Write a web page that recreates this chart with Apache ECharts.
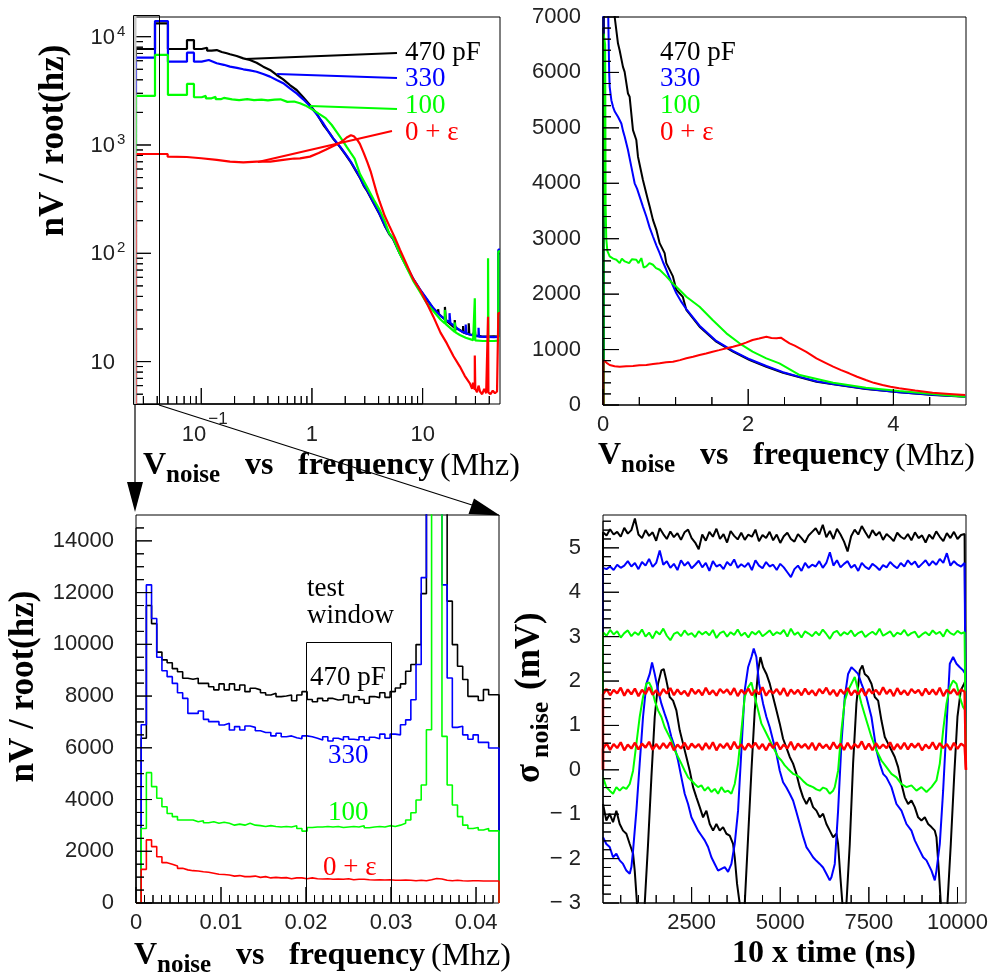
<!DOCTYPE html>
<html>
<head>
<meta charset="utf-8">
<script src="https://cdn.jsdelivr.net/npm/echarts@6/dist/echarts.min.js"></script>
<style>
html,body{margin:0;padding:0;background:#fff;}
#c{width:994px;height:976px;}
</style>
</head>
<body>
<div id="c"></div>
<script>
// ---------- Top-left: noise spectra, log-log (frequency MHz, nV/sqrt(Hz)) ----------
const logBlack = [[0.0257,1],[0.0257,7700],[0.0382,7700],[0.0382,13300],[0.0500,13300],[0.0500,7700],[0.0743,7700],[0.0743,9300],[0.0859,9300],[0.0859,7700],[0.101,7700],[0.101,7900],[0.113,7900],[0.113,7430],[0.124,7430],[0.124,7530],[0.138,7530],[0.138,7220],[0.153,7220],[0.153,7030],[0.170,7030],[0.170,6880],[0.182,6880],[0.209,6640],[0.240,6310],[0.275,6090],[0.316,5750],[0.363,5290],[0.418,4930],[0.480,4430],[0.550,4040],[0.632,3580],[0.727,3220],[0.834,2760],[0.958,2340],[1.10,1960],[1.27,1530],[1.45,1280],[1.56,1140],[1.79,960],[2.02,810],[2.25,690],[2.48,583],[2.71,500],[2.94,420],[3.17,373],[3.62,289],[4.08,229],[4.54,180],[5.00,150],[5.42,135],[6.20,100],[7.17,75],[8.20,58],[9.47,46],[11.0,37],[12.5,31],[13.8,28],[13.8,30.5],[14.0,27.5],[15.9,24.5],[15.9,32],[16.2,24],[19.5,20.5],[19.5,24.2],[19.8,20.3],[21.7,19.6],[23.2,18.6],[23.2,21.3],[23.5,18.5],[26.1,17.9],[26.1,22.6],[26.4,17.8],[28.6,17.6],[29.6,17.4],[29.6,20],[29.9,17.4],[34.0,17.1],[37.8,17.0],[39.0,17.0],[39.3,17.0],[44.0,17.1],[48.2,17.0],[48.3,100],[50,100]];
const logBlue = [[0.0257,1],[0.0257,6400],[0.0382,6400],[0.0382,13960],[0.0500,13960],[0.0500,5880],[0.0743,5880],[0.0743,7120],[0.0859,7120],[0.0859,5880],[0.101,5880],[0.101,6090],[0.117,6090],[0.117,5900],[0.138,5680],[0.160,5500],[0.182,5290],[0.210,5150],[0.240,5000],[0.275,4880],[0.316,4750],[0.363,4520],[0.418,4280],[0.480,3980],[0.550,3720],[0.632,3340],[0.727,3000],[0.834,2640],[0.958,2290],[1.10,1930],[1.27,1580],[1.45,1270],[1.56,1150],[1.79,970],[2.02,820],[2.25,700],[2.48,590],[2.71,505],[2.94,425],[3.17,378],[3.62,292],[4.08,232],[4.54,182],[5.00,152],[5.42,137],[6.20,101],[7.17,76],[8.20,58.5],[9.47,46.5],[11.0,37.5],[12.5,31],[14.5,26.5],[16.5,24],[17.5,23],[17.5,28],[17.8,22.8],[21.7,19.4],[24.5,18.3],[24.5,22],[24.8,18.2],[28.6,17.4],[32.0,17.1],[32.0,20.5],[32.3,17.0],[37.8,16.9],[44.0,16.8],[48.2,16.9],[48.3,108],[50,108]];
const logGreen = [[0.0257,1],[0.0257,2840],[0.0382,2840],[0.0382,6780],[0.0500,6780],[0.0500,2900],[0.0743,2900],[0.0743,3660],[0.0859,3660],[0.0859,2760],[0.101,2760],[0.101,2840],[0.110,2840],[0.110,2700],[0.124,2700],[0.124,2780],[0.135,2780],[0.135,2650],[0.150,2650],[0.150,2720],[0.160,2720],[0.160,2630],[0.190,2640],[0.220,2600],[0.260,2650],[0.300,2600],[0.350,2620],[0.400,2580],[0.460,2620],[0.520,2640],[0.600,2500],[0.690,2520],[0.780,2430],[0.870,2320],[1.01,2130],[1.15,1950],[1.33,1770],[1.51,1530],[1.70,1290],[1.88,1110],[2.06,960],[2.25,840],[2.43,750],[2.71,541],[3.17,402],[3.62,312],[4.08,253],[4.54,198],[5.00,152],[5.42,138],[6.20,100],[7.17,74],[8.20,56],[9.47,44],[11.0,34],[12.5,29.3],[14.5,24.5],[15.9,22.5],[15.9,30],[16.2,22.2],[19.5,18.8],[19.5,23],[19.8,18.6],[21.7,17.6],[24.5,16.6],[28.6,15.8],[29.6,15.7],[29.6,38.4],[29.9,15.7],[35.0,15.5],[39.0,15.5],[39.0,90],[39.3,15.5],[44.0,15.5],[48.2,15.6],[48.3,104],[50,104]];
const logRed = [[0.0257,1],[0.0257,826],[0.0497,826],[0.0497,780],[0.0740,775],[0.100,754],[0.138,728],[0.182,702],[0.240,692],[0.316,702],[0.420,702],[0.550,728],[0.690,750],[0.780,752],[0.960,781],[1.15,842],[1.33,902],[1.51,962],[1.70,1023],[1.88,1082],[2.06,1173],[2.25,1232],[2.39,1203],[2.57,1113],[2.71,1023],[2.94,842],[3.17,691],[3.39,572],[3.62,451],[3.85,361],[4.08,301],[4.54,222],[4.99,180],[5.60,140],[6.24,108],[7.20,78],[8.20,58],[9.47,45.8],[11.0,34],[12.5,26],[14.5,18.5],[16.5,14.8],[19.0,11.2],[21.7,9.0],[24.0,7.4],[26.7,6.3],[28.0,5.6],[28.5,6.4],[29.6,5.5],[29.6,11.4],[29.9,5.6],[31.0,5.2],[32.0,6.0],[33.0,5.3],[34.5,5.0],[36.0,5.6],[37.5,5.1],[39.0,5.3],[39.0,26],[39.3,5.2],[41.0,5.0],[43.0,5.4],[45.0,5.1],[47.0,5.3],[48.2,5.2],[48.3,28],[50,28]];

// ---------- Top-right: noise spectra, linear 0-5 MHz ----------
const linBlack = [[0.012,0],[0.012,12000],[0.06,9500],[0.12,7600],[0.161,7000],[0.206,6525],[0.229,6400],[0.275,6100],[0.298,6010],[0.344,5620],[0.367,5560],[0.413,4960],[0.459,4780],[0.482,4480],[0.505,4470],[0.55,4060],[0.619,3700],[0.643,3580],[0.688,3340],[0.735,3160],[0.78,2920],[0.849,2740],[0.872,2560],[0.963,2320],[1.01,2080],[1.10,1950],[1.148,1714],[1.33,1412],[1.56,1142],[1.79,962],[2.02,812],[2.25,691],[2.48,583],[2.71,500],[2.94,420],[3.17,373],[3.62,289],[4.08,229],[4.54,180],[4.99,150]];
const linBlue = [[0.005,0],[0.005,9000],[0.03,9500],[0.06,8000],[0.085,6000],[0.092,5740],[0.115,5500],[0.138,5380],[0.16,5300],[0.206,5200],[0.253,5080],[0.275,4950],[0.299,4840],[0.344,4600],[0.39,4300],[0.436,4000],[0.47,3900],[0.505,3760],[0.55,3580],[0.597,3400],[0.643,3200],[0.688,3040],[0.735,2880],[0.78,2740],[0.826,2580],[0.872,2440],[0.94,2220],[1.01,2015],[1.08,1860],[1.148,1730],[1.33,1430],[1.56,1155],[1.79,975],[2.02,825],[2.25,703],[2.48,592],[2.71,508],[2.94,428],[3.17,378],[3.62,292],[4.08,232],[4.54,183],[4.99,152]];
const linGreen = [[0.008,0],[0.008,6700],[0.03,6500],[0.036,3600],[0.045,3000],[0.06,2780],[0.092,2680],[0.14,2640],[0.184,2620],[0.23,2560],[0.26,2640],[0.3,2590],[0.322,2590],[0.36,2560],[0.4,2630],[0.459,2620],[0.49,2560],[0.528,2650],[0.56,2480],[0.597,2500],[0.64,2560],[0.688,2530],[0.73,2470],[0.78,2440],[0.872,2320],[0.94,2220],[1.01,2134],[1.148,1954],[1.33,1773],[1.51,1533],[1.70,1293],[1.88,1113],[2.06,962],[2.25,842],[2.43,752],[2.71,541],[3.17,402],[3.62,312],[4.08,253],[4.54,198],[4.99,150]];
const linRed = [[0.005,0],[0.005,812],[0.023,812],[0.05,760],[0.092,722],[0.16,700],[0.23,691],[0.32,700],[0.413,704],[0.5,715],[0.597,722],[0.69,738],[0.78,752],[0.87,770],[0.963,781],[1.06,810],[1.148,842],[1.24,870],[1.33,902],[1.42,930],[1.51,962],[1.6,990],[1.70,1023],[1.79,1050],[1.88,1082],[1.97,1125],[2.06,1173],[2.15,1200],[2.25,1232],[2.32,1210],[2.39,1203],[2.45,1215],[2.5,1170],[2.57,1113],[2.64,1070],[2.71,1023],[2.8,960],[2.94,842],[3.05,770],[3.17,691],[3.28,630],[3.39,572],[3.5,510],[3.62,451],[3.73,400],[3.85,361],[3.96,330],[4.08,301],[4.3,260],[4.54,222],[4.77,200],[4.99,180]];

// ---------- Bottom-left: low-frequency histograms (bin contents) ----------
const binWidth = 0.00061;
const lowBlack = [0,6370,11500,10800,9700,9400,9290,9060,8940,8690, 8650,8690,8490,8490,8360,8240,8470,8240,8470,8240, 8430,8170,8300,8240,8130,8040,8110,7980,8000,8040, 7820,8040,8170,7870,7780,7910,7820,7910,7850,7870, 8040,7750,7980,7870,7720,7980,7940,8130,7950,8170, 8310,8470,8960,9220,9990,11960,24000,52000,48000,22000, 11670,9990,9150,8640,7990,7990,7830,8250,8050,8050];
const lowBlue = [0,6890,12300,11000,9500,8980,8750,8490,8130,7910, 7330,7330,7420,7100,7010,7010,6880,6950,6690,6820, 6690,6840,6790,6660,6590,6590,6460,6560,6430,6460, 6390,6350,6460,6430,6370,6300,6430,6260,6370,6300, 6430,6330,6300,6430,6300,6410,6350,6530,6370,6530, 6500,6890,7080,7860,9220,12580,21000,46000,40000,12300, 8700,6790,6830,6500,6330,6500,6210,6210,5990,5990];
const lowGreen = [0,2880,5040,4500,4050,3720,3460,3340,3210,3210, 3210,3140,3180,3100,3140,3080,3120,3080,3010,3050, 3010,3080,3010,2990,2960,2990,2960,2940,2960,2940, 2990,2880,2780,2920,2940,2940,2960,2940,2960,2920, 2940,2960,2940,2990,2910,2940,2960,2940,2990,2960, 3010,3080,3210,3490,3980,4560,6700,41000,38000,6440, 4560,3790,3340,3010,2880,2920,2820,2880,2790,2790];
const lowRed = [0,1300,2440,2180,1790,1560,1500,1430,1340,1280, 1250,1240,1210,1190,1150,1110,1100,1080,1040,1060, 1020,1020,1040,990,1020,970,990,970,980,940, 970,970,940,970,940,930,940,920,930,920, 940,900,920,920,900,890,900,890,900,880, 880,890,880,860,880,860,900,950,930,880, 860,880,860,850,860,860,850,850,850,850];
const testWindow = [[0.02, 0.03, 10100]];

// ---------- Bottom-right: sigma_noise traces vs time ----------
const traceEnd = 10240;
const flatStep = 100;
const flatBlack = [5.35,5.28,5.42,5.30,5.36,5.25,5.45,5.32,5.40,5.66, 5.30,5.22,5.40,5.27,5.35,5.16,5.44,5.31,5.20,5.37, 5.24,5.33,5.18,5.35,5.41,5.22,5.12,4.97,5.30,5.16, 5.36,5.25,5.43,5.20,5.31,5.12,5.38,5.27,5.19,5.34, 5.18,5.30,5.25,5.41,5.15,5.29,5.22,5.36,5.17,5.30, 5.11,5.26,5.34,5.20,5.14,5.31,5.22,5.12,5.28,5.36, 5.44,5.30,5.52,5.24,5.38,5.20,5.43,5.30,5.14,4.92, 5.26,5.41,5.30,5.49,5.35,5.22,5.40,5.28,5.36,5.18, 5.31,5.24,5.15,5.34,5.25,5.20,5.31,5.17,5.35,5.22, 5.28,5.12,5.30,5.20,5.37,5.25,5.15,5.33,5.22,5.36, 5.20,5.29,5.31];
const flatBlue = [4.55,4.52,4.58,4.50,4.62,4.55,4.60,4.70,4.58,4.66, 4.52,4.68,4.60,4.75,4.57,4.66,4.94,4.62,4.70,4.55, 4.64,4.50,4.72,4.60,4.68,4.54,4.62,4.71,4.56,4.66, 4.48,4.70,4.58,4.62,4.52,4.68,4.60,4.74,4.55,4.63, 4.57,4.66,4.50,4.72,4.60,4.54,4.68,4.58,4.62,4.50, 4.64,4.56,4.45,4.34,4.52,4.60,4.48,4.66,4.55,4.62, 4.58,4.70,4.55,4.66,4.90,4.60,4.72,4.56,4.64,4.70, 4.55,4.62,4.48,4.66,4.57,4.52,4.64,4.58,4.50,4.61, 4.56,4.68,4.60,4.54,4.66,4.58,4.72,4.62,4.69,4.56, 4.64,4.72,4.60,4.70,4.62,4.75,4.66,4.88,4.60,4.70, 4.62,4.58,4.66];
const flatGreen = [3.10,3.02,3.15,3.05,3.12,2.98,3.08,3.14,3.01,3.10, 3.04,3.16,3.00,3.09,2.96,3.12,3.05,3.18,3.02,2.92, 3.06,3.10,3.01,3.14,3.04,3.08,2.99,3.12,3.05,3.11, 3.03,3.15,2.97,3.08,3.12,3.00,3.10,3.04,3.16,3.02, 3.09,2.98,3.11,3.05,3.13,3.01,3.07,3.14,3.03,3.10, 3.06,3.15,3.00,3.18,3.04,3.10,2.98,3.12,3.07,3.01, 3.11,3.03,3.16,3.06,2.95,3.09,3.13,3.02,3.10,3.05, 3.14,3.01,3.08,3.12,2.99,3.06,3.11,3.04,3.18,3.02, 3.07,3.12,3.00,3.09,3.05,3.15,3.02,3.08,3.11,2.98, 3.05,3.10,3.03,3.14,3.06,3.11,3.00,3.16,3.08,3.04, 3.13,3.07,3.10];
const flatRedHigh = [1.70,1.82,1.68,1.80,1.72,1.85,1.67,1.81,1.70,1.83, 1.66,1.80,1.71,1.86,1.69,1.79,1.67,1.82,1.72,1.84, 1.68,1.81,1.70,1.78,1.66,1.83,1.71,1.80,1.68,1.85, 1.70,1.79,1.67,1.82,1.73,1.81,1.69,1.84,1.66,1.80, 1.71,1.83,1.68,1.80,1.70,1.86,1.67,1.79,1.72,1.82, 1.69,1.84,1.66,1.81,1.71,1.80,1.68,1.83,1.70,1.79, 1.67,1.82,1.72,1.85,1.69,1.80,1.66,1.81,1.71,1.84, 1.68,1.79,1.70,1.83,1.67,1.82,1.72,1.80,1.69,1.86, 1.71,1.81,1.66,1.84,1.70,1.79,1.68,1.82,1.73,1.80, 1.67,1.83,1.70,1.81,1.69,1.85,1.66,1.80,1.72,1.82, 1.69,1.81,1.76];
const flatRedLow = [0.47,0.60,0.45,0.58,0.49,0.62,0.44,0.57,0.48,0.61, 0.46,0.59,0.50,0.63,0.45,0.58,0.47,0.60,0.49,0.62, 0.44,0.57,0.48,0.61,0.46,0.59,0.50,0.58,0.45,0.60, 0.47,0.62,0.44,0.58,0.49,0.60,0.46,0.63,0.48,0.57, 0.45,0.59,0.50,0.61,0.47,0.58,0.44,0.60,0.49,0.62, 0.46,0.57,0.48,0.63,0.45,0.59,0.50,0.58,0.47,0.61, 0.44,0.60,0.49,0.57,0.46,0.62,0.48,0.59,0.45,0.61, 0.47,0.58,0.50,0.64,0.46,0.59,0.44,0.60,0.48,0.57, 0.49,0.62,0.45,0.58,0.47,0.61,0.46,0.59,0.50,0.60, 0.44,0.57,0.48,0.62,0.46,0.60,0.49,0.58,0.45,0.61, 0.47,0.59,0.53];
const waveBlack = [[0,-0.77],[94,-1.14],[189,-0.99],[283,-1.18],[377,-0.92],[471,-1.22],[565,-1.37],[659,-1.44],[754,-1.67],[848,-1.89],[895,-2.27],[960,-3.02],[1040,-3.7],[1120,-3.4],[1177,-3.02],[1271,-1.67],[1365,-0.17],[1459,1.19],[1553,1.94],[1647,2.24],[1713,2.27],[1788,2.01],[1882,1.64],[1976,1.56],[2070,1.34],[2164,0.89],[2258,0.59],[2352,0.29],[2447,-0.02],[2541,-0.39],[2635,-0.62],[2729,-0.84],[2823,-1.07],[2917,-0.92],[3011,-1.22],[3105,-1.37],[3199,-1.22],[3293,-1.37],[3387,-1.29],[3481,-1.44],[3575,-1.48],[3669,-1.67],[3716,-1.97],[3782,-2.57],[3857,-3.02],[3930,-3.7],[3998,-3.02],[4093,-1.52],[4187,-0.02],[4281,1.34],[4375,2.24],[4441,2.54],[4516,2.31],[4610,2.16],[4704,1.94],[4798,1.64],[4892,1.34],[4986,1.04],[5080,0.70],[5174,0.50],[5268,0.29],[5362,0.14],[5456,-0.09],[5550,-0.39],[5644,-0.62],[5738,-0.77],[5832,-0.62],[5926,-0.84],[6020,-0.92],[6114,-1.07],[6208,-0.99],[6302,-1.22],[6397,-1.37],[6491,-1.52],[6585,-1.44],[6632,-1.67],[6697,-2.42],[6754,-3.02],[6810,-3.7],[6867,-3.02],[6961,-1.67],[7055,0.14],[7149,1.49],[7243,2.24],[7318,2.35],[7384,2.16],[7478,2.09],[7573,1.94],[7667,1.64],[7761,1.56],[7855,1.11],[7949,0.74],[8043,0.59],[8137,0.44],[8231,0.29],[8325,0.06],[8419,-0.32],[8513,-0.62],[8607,-0.77],[8701,-0.69],[8795,-0.84],[8889,-1.07],[8983,-1.14],[9078,-1.07],[9172,-1.22],[9266,-1.29],[9360,-1.37],[9407,-1.52],[9473,-2.27],[9530,-3.02],[9620,-3.7],[9717,-3.02],[9811,-1.67],[9905,-0.17],[9999,1.19],[10093,1.79],[10187,1.94],[10225,2.01]];
const waveBlue = [[0,-1.52],[94,-1.67],[189,-1.74],[283,-1.97],[377,-1.89],[471,-2.04],[565,-2.12],[659,-2.27],[754,-2.34],[801,-2.19],[848,-1.82],[942,-0.92],[1035,0.14],[1129,1.19],[1224,1.94],[1318,2.16],[1384,2.42],[1459,2.16],[1553,1.79],[1647,1.49],[1741,1.26],[1835,1.04],[1929,0.74],[2023,0.51],[2117,0.21],[2211,-0.17],[2305,-0.54],[2400,-0.77],[2494,-1.07],[2588,-1.22],[2682,-1.37],[2776,-1.48],[2870,-1.59],[2964,-1.74],[3058,-1.97],[3152,-2.12],[3246,-2.27],[3340,-2.23],[3434,-2.19],[3528,-2.30],[3622,-2.12],[3669,-1.89],[3716,-1.67],[3810,-0.92],[3904,0.44],[3998,1.79],[4093,2.31],[4187,2.54],[4252,2.73],[4327,2.54],[4403,1.94],[4516,1.49],[4610,1.19],[4704,0.96],[4798,0.66],[4892,0.36],[4986,-0.02],[5080,-0.28],[5174,-0.40],[5268,-0.54],[5362,-0.69],[5456,-0.95],[5550,-1.22],[5644,-1.50],[5738,-1.74],[5832,-1.85],[5926,-1.97],[6020,-2.05],[6114,-2.12],[6208,-2.20],[6302,-2.34],[6397,-2.49],[6444,-2.42],[6538,-2.12],[6632,-0.92],[6726,0.59],[6820,1.64],[6914,2.16],[7008,2.31],[7102,2.24],[7196,2.16],[7291,1.94],[7432,1.64],[7573,1.19],[7714,0.44],[7808,0.14],[7902,-0.09],[7996,-0.17],[8137,-0.39],[8278,-0.77],[8419,-0.92],[8560,-1.22],[8701,-1.37],[8795,-1.59],[8937,-1.82],[9031,-1.97],[9125,-2.04],[9266,-2.27],[9360,-2.49],[9407,-2.27],[9501,-1.67],[9595,-0.47],[9689,0.96],[9783,2.39],[9877,2.54],[9971,2.39],[10065,2.31],[10159,2.24],[10225,2.16]];
const waveGreen = [[0,-0.17],[94,-0.39],[189,-0.47],[283,-0.54],[377,-0.39],[471,-0.47],[565,-0.39],[659,-0.43],[754,-0.32],[848,-0.02],[942,0.59],[1035,1.19],[1129,1.64],[1224,1.94],[1299,1.97],[1365,1.86],[1459,1.56],[1553,1.34],[1647,1.19],[1741,0.96],[1835,0.81],[1929,0.66],[2023,0.44],[2117,0.29],[2211,0.14],[2305,-0.02],[2400,-0.17],[2494,-0.24],[2588,-0.32],[2682,-0.39],[2776,-0.35],[2870,-0.47],[2964,-0.39],[3058,-0.50],[3152,-0.43],[3246,-0.54],[3340,-0.39],[3434,-0.50],[3528,-0.47],[3622,-0.54],[3716,-0.32],[3810,0.14],[3904,0.89],[3998,1.64],[4093,1.86],[4187,1.97],[4281,1.64],[4375,1.34],[4469,1.04],[4563,0.89],[4657,0.74],[4751,0.59],[4845,0.44],[4939,0.29],[5033,0.21],[5127,0.10],[5221,0.02],[5362,-0.09],[5456,-0.12],[5550,-0.17],[5644,-0.25],[5738,-0.32],[5832,-0.36],[5926,-0.39],[6020,-0.44],[6114,-0.47],[6208,-0.40],[6302,-0.43],[6397,-0.54],[6491,-0.47],[6538,-0.39],[6632,-0.02],[6726,0.89],[6820,1.56],[6914,1.79],[7008,1.94],[7102,2.09],[7196,1.79],[7291,1.49],[7432,1.11],[7573,0.74],[7714,0.44],[7855,0.21],[7996,0.06],[8137,-0.09],[8278,-0.17],[8419,-0.32],[8560,-0.39],[8701,-0.35],[8842,-0.47],[8983,-0.39],[9125,-0.50],[9266,-0.39],[9407,-0.24],[9501,0.14],[9595,0.89],[9689,1.49],[9783,1.86],[9877,2.01],[9971,1.94],[10065,1.64],[10159,1.41],[10225,1.34]];

// ---------- Tick values and labels ----------
const p1XMajor = [0.1, 1, 10];
const p1XLabelBase = ['10', '1', '10'];
const p1XLabelExp = ['\u22121', '', ''];
const p1YMajor = [10, 100, 1000, 10000];
const p1YLabelBase = ['10', '10', '10', '10'];
const p1YLabelExp = ['', '2', '3', '4'];
const legendNames = ['470 pF', '330', '100', '0 + \u03b5'];

const COL = {black: '#000000', blue: '#0000ff', green: '#00ff00', red: '#ff0000'};
const SANS = '"Liberation Sans", Arial, sans-serif';
const SERIF = '"Liberation Serif", "Times New Roman", serif';
const LABEL_COLOR = '#222';

// axis ranges of the four frames: [xMin, xMax, yMin, yMax]
const RANGES = [[0.0252, 50, 4.06, 15200], [0, 5, 0, 7000], [0, 70 * binWidth, 0, 15000], [0, traceEnd, -3, 5.74]];
const LOGFRAME = [true, false, false, false];
const GRIDS = [
  {left: 135, top: 17, width: 365, height: 387},
  {left: 603, top: 17, width: 363, height: 388},
  {left: 136, top: 515, width: 363, height: 388},
  {left: 603, top: 515, width: 363, height: 388}
];

function steps(a, b, s, skip) {
  const out = [];
  const n = Math.round((b - a) / s);
  for (let k = 0; k <= n; k++) {
    const v = +(a + k * s).toFixed(9);
    if (skip && Math.abs(v / skip - Math.round(v / skip)) < 1e-6) continue;
    out.push(v);
  }
  return out;
}
function logMinor(lo, hi) {
  const out = [];
  [0.001, 0.01, 0.1, 1, 10, 100, 1000, 10000].forEach(d => {
    for (let m = 2; m <= 9; m++) { const v = +(d * m).toPrecision(6); if (v > lo && v < hi) out.push(v); }
  });
  return out;
}

// tick positions per frame: [x-major, x-minor, y-major, y-minor]
const TICKS = [
  [p1XMajor, logMinor(0.0252, 50), p1YMajor, logMinor(4.06, 15200)],
  [[0, 2, 4], steps(0.5, 4.5, 0.5, 2), steps(0, 7000, 1000), steps(200, 6800, 200, 1000)],
  [steps(0, 0.04, 0.01), steps(0.001, 0.042, 0.001, 0.01), steps(0, 14000, 2000), steps(500, 14500, 500, 2000)],
  [[2500, 5000, 7500, 10000], steps(500, 9500, 500, 2500), steps(-3, 5, 1), steps(-2.8, 5.6, 0.2, 1)]
];

// value reached by moving `px` pixels inward from the axis start
function inward(lo, hi, sizePx, px, isLog) {
  if (isLog) return lo * Math.pow(hi / lo, px / sizePx);
  return lo + (hi - lo) * px / sizePx;
}
// ticks drawn as one comb-shaped line along the bottom or left edge
function combSeries(gi, axis, values, lenPx) {
  const [x0, x1, y0, y1] = RANGES[gi];
  const g = GRIDS[gi];
  const data = [];
  if (axis === 'x') {
    const tip = inward(y0, y1, g.height, lenPx, LOGFRAME[gi]);
    values.forEach(v => { data.push([v, y0], [v, tip], [v, y0]); });
  } else {
    const tip = inward(x0, x1, g.width, lenPx, LOGFRAME[gi]);
    values.forEach(v => { data.push([x0, v], [tip, v], [x0, v]); });
  }
  return {type: 'line', xAxisIndex: gi, yAxisIndex: gi, data, symbol: 'none', showSymbol: false, silent: true,
    clip: false, z: 6, lineStyle: {color: '#000', width: 1}};
}
function tickSeries(gi) {
  const [xMaj, xMin, yMaj, yMin] = TICKS[gi];
  return [combSeries(gi, 'x', xMaj, 16), combSeries(gi, 'x', xMin, 8), combSeries(gi, 'y', yMaj, 16), combSeries(gi, 'y', yMin, 8)];
}

function txtEl(text, x, y, size, align, font) {
  return {type: 'text', x, y, style: {text, fill: LABEL_COLOR, font: size + 'px ' + (font || SANS),
    textAlign: align, align, textVerticalAlign: 'middle', verticalAlign: 'middle'}};
}

function logLabelSeries() {
  const data = [];
  p1XMajor.forEach((v, i) => data.push([v, 10, 0, i]));
  p1YMajor.forEach((v, i) => data.push([1, v, 1, i]));
  return {
    type: 'custom', xAxisIndex: 0, yAxisIndex: 0, silent: true, clip: false, z: 10,
    encode: {x: 0, y: 1}, data,
    renderItem(params, api) {
      const cs = params.coordSys;
      const i = api.value(3);
      if (api.value(2) === 0) {
        const x = api.coord([api.value(0), 10])[0];
        const yb = cs.y + cs.height;
        if (p1XLabelExp[i]) {
          return {type: 'group', children: [txtEl(p1XLabelBase[i], x + 5, yb + 30.5, 22, 'right'), txtEl(p1XLabelExp[i], x + 7, yb + 15, 17, 'left')]};
        }
        return txtEl(p1XLabelBase[i], x, yb + 30.5, 22, 'center');
      }
      const y = api.coord([1, api.value(1)])[1];
      if (p1YLabelExp[i]) {
        return {type: 'group', children: [txtEl(p1YLabelBase[i], cs.x - 20, y + 1, 22, 'right'), txtEl(p1YLabelExp[i], cs.x - 18, y - 5, 15, 'left')]};
      }
      return txtEl(p1YLabelBase[i], cs.x - 20, y + 1, 22, 'right');
    }
  };
}

function histPoints(vals) {
  const pts = vals.map((v, k) => [k * binWidth, v]);
  pts.push([vals.length * binWidth, vals[vals.length - 1]]);
  pts.push([vals.length * binWidth, 0]);
  return pts;
}
function tracePoints(vals) {
  const pts = [[0, 0]];
  vals.forEach((v, i) => pts.push([i * flatStep, v]));
  pts.push([traceEnd, vals[vals.length - 1]]);
  pts.push([traceEnd, 0]);
  return pts;
}

function lineSeries(gi, data, color, width, step) {
  return {type: 'line', xAxisIndex: gi, yAxisIndex: gi, data, step: step || false, symbol: 'none', showSymbol: false,
    silent: true, clip: true, lineStyle: {color, width}, z: 2};
}

const axisBase = {axisLine: {show: false, onZero: false}, axisTick: {show: false}, splitLine: {show: false}, minorTick: {show: false}};
const plainNum = v => String(+(+v).toPrecision(10));
const labelBase = {color: LABEL_COLOR, fontFamily: SANS, fontSize: 22, formatter: plainNum};
const minusFmt = v => (v < 0 ? '\u2212 ' + Math.abs(v) : plainNum(v));

// ---------- text and decorations drawn on top ----------
function gText(text, x, y, size, color, bold, align, rot) {
  return {type: 'text', x, y, rotation: rot || 0, silent: true, z: 100,
    style: {text, fill: color, font: (bold ? 'bold ' : '') + size + 'px ' + SERIF,
      textAlign: align || 'left', align: align || 'left', textVerticalAlign: 'middle', verticalAlign: 'middle'}};
}
function freqTitle(x0, base) {
  const m = base - 0.3375 * 32, s = base + 7 - 0.3375 * 25;
  return [gText('V', x0, m, 32, '#000', true), gText('noise', x0 + 23, s, 25, '#000', true),
    gText('vs', x0 + 102, m, 32, '#000', true), gText('frequency', x0 + 155, m, 32, '#000', true),
    gText('(Mhz)', x0 + 297, m, 32, '#000', false)];
}
function legendBlock(x, baselines, xs) {
  const cols = [COL.black, COL.blue, COL.green, COL.red];
  return legendNames.map((t, i) => gText(t, xs ? xs[i] : x, baselines[i] - 0.3375 * 27, 27, cols[i], false));
}
function gLine(x1, y1, x2, y2, color, w) {
  return {type: 'line', silent: true, z: 90, shape: {x1, y1, x2, y2}, style: {stroke: color, lineWidth: w}};
}

const graphics = [].concat(
  freqTitle(143, 477), freqTitle(598, 467), freqTitle(134, 967),
  [gText('10 x time (ns)', 732, 965 - 0.3375 * 32, 32, '#000', true)],
  [gText('nV / root(hz)', 54, 140.5, 35, '#000', true, 'center', Math.PI / 2),
   gText('nV / root(hz)', 24, 686.5, 35, '#000', true, 'center', Math.PI / 2),
   {type: 'group', x: 542, y: 783, rotation: Math.PI / 2, children: [
     gText('\u03c3', 0, -11.8, 35, '#000', true), gText('noise', 25, 8 - 0.3375 * 26, 26, '#000', true),
     gText('(mV)', 93, -11.8, 35, '#000', true)]}],
  legendBlock(405, [62, 88, 115, 142]),
  legendBlock(660, [62, 88, 115, 142]),
  legendBlock(0, [687, 765, 822, 877], [310, 328, 328, 323]),
  [gText('test', 307, 598 - 9.1, 27, '#000', false), gText('window', 307, 625 - 9.1, 27, '#000', false)],
  // leader lines from the curves to their labels
  [gLine(245, 59, 397, 53, COL.black, 2), gLine(277, 74, 397, 78, COL.blue, 2),
   gLine(310, 106, 397, 109, COL.green, 2), gLine(258, 162, 392, 131, COL.red, 2)],
  // zoom window on the log plot and the arrows to the enlarged view
  [{type: 'rect', silent: true, z: 80, shape: {x: 133.5, y: 15.5, width: 3, height: 389}, style: {fill: '#c8c8c8', stroke: null}},
   {type: 'rect', silent: true, z: 81, shape: {x: 133.5, y: 15.5, width: 26, height: 389}, style: {fill: 'none', stroke: '#000', lineWidth: 1}},
   gLine(135, 405, 135, 484, '#000', 1.2),
   {type: 'polygon', silent: true, z: 90, shape: {points: [[127, 482], [143, 482], [135, 512]]}, style: {fill: '#000'}},
   gLine(159, 405, 472, 505, '#000', 1.2),
   {type: 'polygon', silent: true, z: 90, shape: {points: [[468.5, 514], [474, 498.5], [500, 515.5]]}, style: {fill: '#000'}}]
);

const option = {
  animation: false,
  backgroundColor: '#ffffff',
  grid: GRIDS.map(g => Object.assign({show: true, borderColor: '#000', borderWidth: 1, backgroundColor: 'transparent'}, g)),
  xAxis: [
    Object.assign({gridIndex: 0, type: 'log', logBase: 10, min: RANGES[0][0], max: RANGES[0][1], axisLabel: {show: false}}, axisBase),
    Object.assign({gridIndex: 1, type: 'value', min: 0, max: 5, interval: 2, axisLabel: Object.assign({margin: 9, showMaxLabel: false}, labelBase)}, axisBase),
    Object.assign({gridIndex: 2, type: 'value', min: 0, max: RANGES[2][1], interval: 0.01, axisLabel: Object.assign({margin: 9, showMaxLabel: false}, labelBase)}, axisBase),
    Object.assign({gridIndex: 3, type: 'value', min: 0, max: traceEnd, interval: 2500, axisLabel: Object.assign({margin: 9, showMinLabel: false, showMaxLabel: false}, labelBase)}, axisBase)
  ],
  yAxis: [
    Object.assign({gridIndex: 0, type: 'log', logBase: 10, min: RANGES[0][2], max: RANGES[0][3], axisLabel: {show: false}}, axisBase),
    Object.assign({gridIndex: 1, type: 'value', min: 0, max: 7000, interval: 1000, axisLabel: Object.assign({margin: 22}, labelBase)}, axisBase),
    Object.assign({gridIndex: 2, type: 'value', min: 0, max: 15000, interval: 2000, axisLabel: Object.assign({margin: 22, showMaxLabel: false}, labelBase)}, axisBase),
    Object.assign({gridIndex: 3, type: 'value', min: -3, max: 5.74, interval: 1, axisLabel: Object.assign({margin: 22, showMaxLabel: false}, labelBase, {formatter: minusFmt})}, axisBase)
  ],
  series: [
    lineSeries(0, logBlack, COL.black, 2.2), lineSeries(0, logBlue, COL.blue, 2.2),
    lineSeries(0, logGreen, COL.green, 2.2), lineSeries(0, logRed, COL.red, 2.2),
    lineSeries(1, linBlack, COL.black, 2), lineSeries(1, linBlue, COL.blue, 2),
    lineSeries(1, linGreen, COL.green, 2), lineSeries(1, linRed, COL.red, 2),
    lineSeries(2, histPoints(lowBlack), COL.black, 1.6, 'end'), lineSeries(2, histPoints(lowBlue), COL.blue, 1.6, 'end'),
    lineSeries(2, histPoints(lowGreen), COL.green, 1.6, 'end'), lineSeries(2, histPoints(lowRed), COL.red, 1.6, 'end'),
    lineSeries(3, waveBlack, COL.black, 2), lineSeries(3, waveBlue, COL.blue, 2), lineSeries(3, waveGreen, COL.green, 2),
    lineSeries(3, tracePoints(flatBlack), COL.black, 2), lineSeries(3, tracePoints(flatBlue), COL.blue, 2),
    lineSeries(3, tracePoints(flatGreen), COL.green, 2),
    lineSeries(3, tracePoints(flatRedHigh), COL.red, 2.4), lineSeries(3, tracePoints(flatRedLow), COL.red, 2.4),
    {
      type: 'custom', xAxisIndex: 2, yAxisIndex: 2, silent: true, clip: false, z: 8,
      encode: {x: [0, 1], y: 2}, data: testWindow,
      renderItem(params, api) {
        const p0 = api.coord([api.value(0), 0]);
        const p1 = api.coord([api.value(1), api.value(2)]);
        const x0 = Math.round(p0[0]) + 0.5, x1 = Math.round(p1[0]) + 0.5, yt = Math.round(p1[1]) + 0.5;
        return {type: 'polyline', shape: {points: [[x0, p0[1]], [x0, yt], [x1, yt], [x1, p0[1]]]}, style: {stroke: '#000', lineWidth: 1, fill: null}};
      }
    },
    logLabelSeries()
  ].concat(tickSeries(0), tickSeries(1), tickSeries(2), tickSeries(3)),
  graphic: {elements: graphics}
};

const chart = echarts.init(document.getElementById('c'), null, {renderer: 'canvas'});
chart.setOption(option);
</script>
</body>
</html>
